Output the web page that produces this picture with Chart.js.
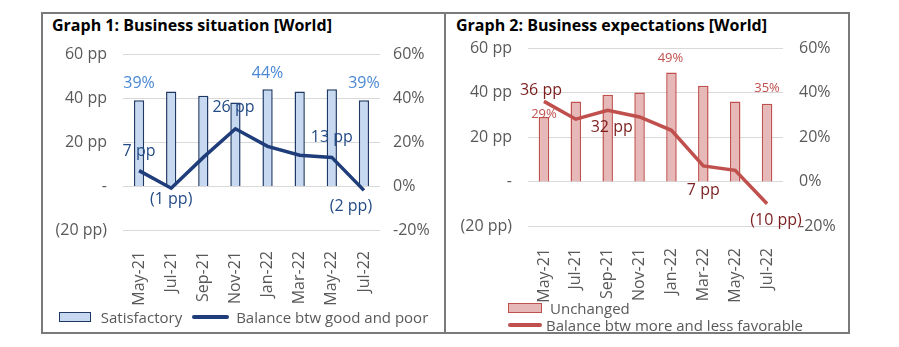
<!DOCTYPE html>
<html>
<head>
<meta charset="utf-8">
<script src="https://cdn.jsdelivr.net/npm/chart.js@4"></script>
<style>
    body { margin: 0; background: #fff; font-family: 'Open Sans', sans-serif; color: #595959; }
    #page { position: relative; width: 899px; height: 347px; overflow: hidden; }
    .frame { position: absolute; left: 41px; top: 12px; width: 809px; height: 322px; border: 2px solid #7a7a7a; box-sizing: border-box; }
    .divider { position: absolute; left: 444px; top: 12px; width: 2px; height: 322px; background: #7a7a7a; }
    .title { position: absolute; font-weight: bold; font-size: 16px; color: #000; white-space: nowrap; }
    canvas { position: absolute; }
    .legend { position: absolute; font-size: 15px; color: #595959; white-space: nowrap; }
    .legend .row { display: flex; align-items: center; height: 17px; }
    .swatch { display: inline-block; box-sizing: border-box; }
</style>
</head>
<body>
<div id="page">
    <div class="frame"></div>
    <div class="divider"></div>

    <div class="title" style="left:52px; top:14px;">Graph 1: Business situation [World]</div>
    <canvas id="situationChart" width="402" height="319" style="left:43px; top:14px;"></canvas>
    <div class="legend" style="left:42px; top:308px; width:403px;">
        <div class="row" style="justify-content:center;">
            <span class="swatch" style="width:32px; height:10px; background:#c6d9f0; border:1.5px solid #1f3864; margin-right:10px;"></span>
            <span>Satisfactory</span>
            <span class="swatch" style="width:37px; height:4px; background:#1f3d7a; border-radius:2px; margin:0 7px 0 10px;"></span>
            <span>Balance btw good and poor</span>
        </div>
    </div>

    <div class="title" style="left:456px; top:14px;">Graph 2: Business expectations [World]</div>
    <canvas id="expectationsChart" width="403" height="319" style="left:446px; top:14px;"></canvas>
    <div class="legend" style="left:508px; top:299px;">
        <div class="row">
            <span class="swatch" style="width:34px; height:10px; background:#e6b8b7; border:1.5px solid #c0504d; margin-right:8px;"></span>
            <span>Unchanged</span>
        </div>
        <div class="row">
            <span class="swatch" style="width:34px; height:4px; background:#c0504d; border-radius:2px; margin-right:4px;"></span>
            <span>Balance btw more and less favorable</span>
        </div>
    </div>
</div>

<script>
// ==================== DATA ====================

const months = ['May-21', 'Jul-21', 'Sep-21', 'Nov-21', 'Jan-22', 'Mar-22', 'May-22', 'Jul-22'];

// Graph 1: business situation
const satisfactory = [39, 43, 41, 38, 44, 43, 44, 39];
const balanceGoodPoor = [7, -1, 13, 26, 18, 14, 13, -2];

// Graph 2: business expectations
const unchanged = [29, 36, 39, 40, 49, 43, 36, 35];
const balanceFavorable = [36, 28, 32, 29, 23, 7, 5, -10];

// Axis ticks (pp on the left, % on the right)
const tickValues = [-20, 0, 20, 40, 60];

// ==================== HELPERS ====================

Chart.defaults.font.family = "'Open Sans', sans-serif";
Chart.defaults.font.size = 16;
Chart.defaults.color = '#595959';

function ppLabel(v) {
    if (v === 0) return '-';
    return v < 0 ? '(' + (-v) + ' pp)' : v + ' pp';
}

function pctLabel(v) {
    return v + '%';
}

// Draws value labels next to selected points / bar tops
const valueLabels = {
    id: 'valueLabels',
    afterDatasetsDraw(chart) {
        const ctx = chart.ctx;
        chart.data.datasets.forEach((ds, i) => {
            const cfg = ds.valueLabels;
            if (!cfg) return;
            const meta = chart.getDatasetMeta(i);
            ctx.save();
            ctx.font = cfg.font;
            ctx.fillStyle = cfg.color;
            ctx.textAlign = 'center';
            ctx.textBaseline = 'middle';
            Object.keys(cfg.offsets).forEach(idx => {
                const el = meta.data[idx];
                const [dx, dy] = cfg.offsets[idx];
                ctx.fillText(cfg.format(ds.data[idx]), el.x + dx, el.y + dy);
            });
            ctx.restore();
        });
    }
};

function buildOptions(layout) {
    return {
        responsive: false,
        animation: false,
        layout: { padding: { top: layout.top } },
        plugins: {
            legend: { display: false },
            tooltip: { enabled: false }
        },
        scales: {
            x: {
                grid: { display: false },
                border: { display: false },
                ticks: {
                    minRotation: 90,
                    maxRotation: 90,
                    padding: layout.xPad,
                    font: { size: 16 },
                    color: '#595959'
                },
                afterFit: scale => { scale.height = layout.xHeight; }
            },
            y: {
                position: 'left',
                min: -20,
                max: 60,
                afterBuildTicks: scale => { scale.ticks = tickValues.map(v => ({ value: v })); },
                grid: { color: '#d9d9d9', lineWidth: 1, drawTicks: false },
                border: { display: false },
                ticks: { padding: layout.leftPad, callback: ppLabel },
                afterFit: scale => { scale.width = layout.leftWidth; }
            },
            y1: {
                position: 'right',
                min: -20,
                max: 60,
                afterBuildTicks: scale => { scale.ticks = tickValues.map(v => ({ value: v })); },
                grid: { display: false, drawTicks: false },
                border: { display: false },
                ticks: { padding: layout.rightPad, callback: pctLabel },
                afterFit: scale => { scale.width = layout.rightWidth; }
            }
        }
    };
}

// ==================== GRAPH 1 ====================

function createSituationChart() {
    const ctx = document.getElementById('situationChart').getContext('2d');
    new Chart(ctx, {
        type: 'bar',
        data: {
            labels: months,
            datasets: [{
                type: 'line',
                label: 'Balance btw good and poor',
                data: balanceGoodPoor,
                yAxisID: 'y',
                borderColor: '#1f3d7a',
                borderWidth: 3.5,
                pointRadius: 0,
                tension: 0,
                order: 1,
                valueLabels: {
                    font: "16px 'Open Sans', sans-serif",
                    color: '#234b85',
                    format: ppLabel,
                    offsets: { 0: [0, -19], 1: [0, 11], 3: [-2, -21], 6: [0, -20], 7: [-13, 16] }
                }
            }, {
                label: 'Satisfactory',
                data: satisfactory,
                yAxisID: 'y1',
                backgroundColor: '#c6d9f0',
                borderColor: '#1f3864',
                borderWidth: 1.5,
                barPercentage: 0.32,
                categoryPercentage: 1,
                order: 2,
                valueLabels: {
                    font: "16px 'Open Sans', sans-serif",
                    color: '#4a88d4',
                    format: pctLabel,
                    offsets: { 0: [0, -17], 4: [0, -16], 7: [0, -17] }
                }
            }]
        },
        options: buildOptions({ top: 40, xHeight: 103, xPad: 13, leftWidth: 80, leftPad: 16, rightWidth: 65, rightPad: 13 }),
        plugins: [valueLabels]
    });
}

// ==================== GRAPH 2 ====================

function createExpectationsChart() {
    const ctx = document.getElementById('expectationsChart').getContext('2d');
    new Chart(ctx, {
        type: 'bar',
        data: {
            labels: months,
            datasets: [{
                type: 'line',
                label: 'Balance btw more and less favorable',
                data: balanceFavorable,
                yAxisID: 'y',
                borderColor: '#c0504d',
                borderWidth: 3.5,
                pointRadius: 0,
                tension: 0,
                order: 1,
                valueLabels: {
                    font: "16px 'Open Sans', sans-serif",
                    color: '#7b1e1e',
                    format: ppLabel,
                    offsets: { 0: [-3, -11], 2: [4, 17], 5: [0, 25], 7: [9, 17] }
                }
            }, {
                label: 'Unchanged',
                data: unchanged,
                yAxisID: 'y1',
                backgroundColor: '#e6b8b7',
                borderColor: '#c0504d',
                borderWidth: 1.5,
                barPercentage: 0.33,
                categoryPercentage: 1,
                order: 2,
                valueLabels: {
                    font: "13px 'Open Sans', sans-serif",
                    color: '#c0504d',
                    format: pctLabel,
                    offsets: { 0: [0, -3], 4: [-1, -14], 7: [0, -15] }
                }
            }]
        },
        options: buildOptions({ top: 34, xHeight: 107, xPad: 14, leftWidth: 82, leftPad: 16, rightWidth: 66, rightPad: 16 }),
        plugins: [valueLabels]
    });
}

document.addEventListener('DOMContentLoaded', function() {
    createSituationChart();
    createExpectationsChart();
});
</script>
</body>
</html>
